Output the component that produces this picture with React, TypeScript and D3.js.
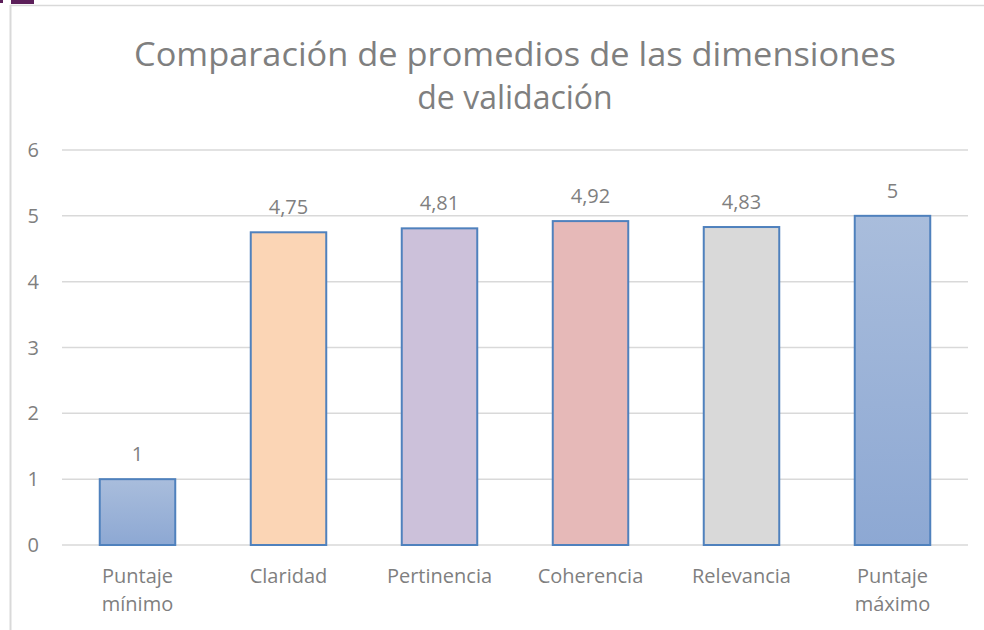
import React from 'react';
import * as d3 from 'd3';

const categories = ['Puntaje mínimo', 'Claridad', 'Pertinencia', 'Coherencia', 'Relevancia', 'Puntaje máximo'];
const values = [1, 4.75, 4.81, 4.92, 4.83, 5];
const fills = ['url(#gradBlue)', '#FBD5B5', '#CCC1DA', '#E6B9B8', '#D9D9D9', 'url(#gradBlue)'];
const yTicks = [0, 1, 2, 3, 4, 5, 6];
const titleLines = ['Comparación de promedios de las dimensiones', 'de validación'];

const W = 984;
const H = 630;
const left = 62, right = 968, top = 150, bottom = 545;
const font = '"Open Sans", sans-serif';
const textColor = '#7F7F7F';

const esLocale = d3.formatLocale({ decimal: ',', thousands: '.', grouping: [3], currency: ['', '€'] });
const fmt = esLocale.format('~r');

const App = () => {
  const x = d3.scaleBand().domain(categories).range([left, right]).paddingInner(0).paddingOuter(0);
  const y = d3.scaleLinear().domain([0, 6]).range([bottom, top]);
  const barW = x.bandwidth() * 0.5;

  return (
    <svg width={W} height={H} style={{ position: 'absolute', left: 0, top: 0, background: '#fff' }} fontFamily={font}>
      <defs>
        <linearGradient id="gradBlue" x1="0" y1="0" x2="0" y2="1">
          <stop offset="0" stopColor="#A9BDDC" />
          <stop offset="1" stopColor="#8DA8D3" />
        </linearGradient>
      </defs>
      <rect width={W} height={H} fill="#fff" />
      {/* frame + corner marks */}
      <rect x={0} y={0} width={3} height={3} fill="#5C1F5A" />
      <rect x={11} y={0} width={23} height={4} fill="#5C1F5A" />
      <line x1={10} x2={W} y1={5.5} y2={5.5} stroke="#D9D9D9" strokeWidth={1.5} />
      <line x1={10.5} x2={10.5} y1={5} y2={H} stroke="#D9D9D9" strokeWidth={2} />

      {titleLines.map((t, i) => (
        <text key={t} x={515} y={66 + i * 43} textAnchor="middle" fontSize={32} fill={textColor}
          textLength={i === 0 ? 762 : undefined} lengthAdjust="spacingAndGlyphs">{t}</text>
      ))}

      {yTicks.map(t => (
        <g key={t}>
          <line x1={left} x2={right} y1={y(t)} y2={y(t)} stroke="#D9D9D9" strokeWidth={1.5} />
          <text x={39} y={y(t) + 7} textAnchor="end" fontSize={20} fill={textColor}>{t}</text>
        </g>
      ))}

      {categories.map((c, i) => {
        const cx = (x(c) as number) + x.bandwidth() / 2;
        const v = values[i];
        return (
          <g key={c}>
            <rect x={cx - barW / 2} y={y(v)} width={barW} height={y(0) - y(v)}
              fill={fills[i]} stroke="#4F81BD" strokeWidth={2} />
            <text x={cx} y={y(v) - 18} textAnchor="middle" fontSize={20} fill={textColor}>{fmt(v)}</text>
            {c.split(' ').map((w, j) => (
              <text key={w} x={cx} y={583 + j * 28} textAnchor="middle" fontSize={20} fill={textColor}>{w}</text>
            ))}
          </g>
        );
      })}
    </svg>
  );
};

export default App;
